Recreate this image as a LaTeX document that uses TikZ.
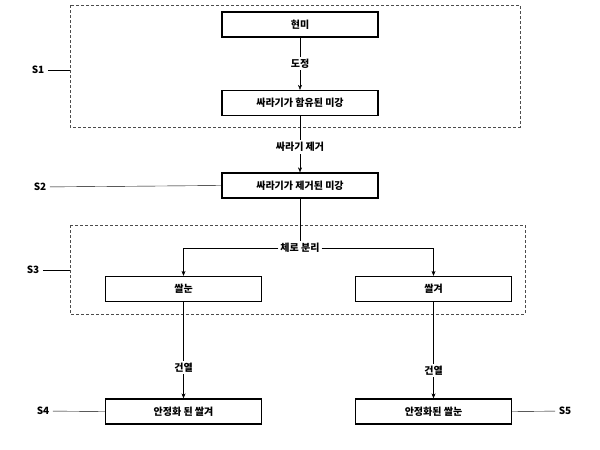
\documentclass[tikz,border=0pt]{standalone}
\usepackage{fontspec}
\newfontfamily\kr{Noto Sans CJK KR}
\usetikzlibrary{arrows.meta}
\begin{document}
\begin{tikzpicture}[x=1pt,y=-1pt,font=\kr\bfseries\fontsize{10}{11}\selectfont,
  box/.style={draw,line width=1.3pt,minimum width=156pt,minimum height=25pt,inner sep=0pt},
  lbl/.style={fill=white,inner sep=2pt},
  arr/.style={-{Stealth[length=5pt,width=4pt]}},
  grp/.style={draw,densely dashed,gray!60!black}]
\useasboundingbox (0,0) rectangle (600,450);
\draw[grp] (70,5) rectangle (520,127);
\draw[grp] (70,225) rectangle (525,314);
\coordinate (g1) at (70,70);
\coordinate (g3) at (70,270);
\node[box] (a) at (300,24.5) {현미};
\node[box] (b) at (300,103) {싸라기가 함유된 미강};
\node[box] (c) at (300,185.5) {싸라기가 제거된 미강};
\node[box] (d) at (183.5,289) {쌀눈};
\node[box] (e) at (433.5,289) {쌀겨};
\node[box] (f) at (183.5,411.5) {안정화 된 쌀겨};
\node[box] (g) at (433.5,411.5) {안정화된 쌀눈};
\node (s1) at (38,70) {S1};
\node (s2) at (40,187) {S2};
\node (s3) at (33,270) {S3};
\node (s4) at (43,411) {S4};
\node (s5) at (565,411) {S5};
\draw[arr] (a) -- (b) node[lbl,midway] {도정};
\draw[arr] (b) -- (c) node[lbl,pos=0.55] {싸라기 제거};
\node[lbl] (sep) at (300,248) {체로 분리};
\draw (c) -- (sep);
\draw[arr] (sep.west) -| (d.north);
\draw[arr] (sep.east) -| (e.north);
\draw[arr] (d) -- (f) node[lbl,pos=0.68] {건열};
\draw[arr] (e) -- (g) node[lbl,pos=0.71] {건열};
\draw (s1) -- (g1);
\draw (s2) -- (c.west);
\draw (s3) -- (g3);
\draw (s4) -- (f.west);
\draw (s5) -- (g.east);
\end{tikzpicture}
\end{document}
